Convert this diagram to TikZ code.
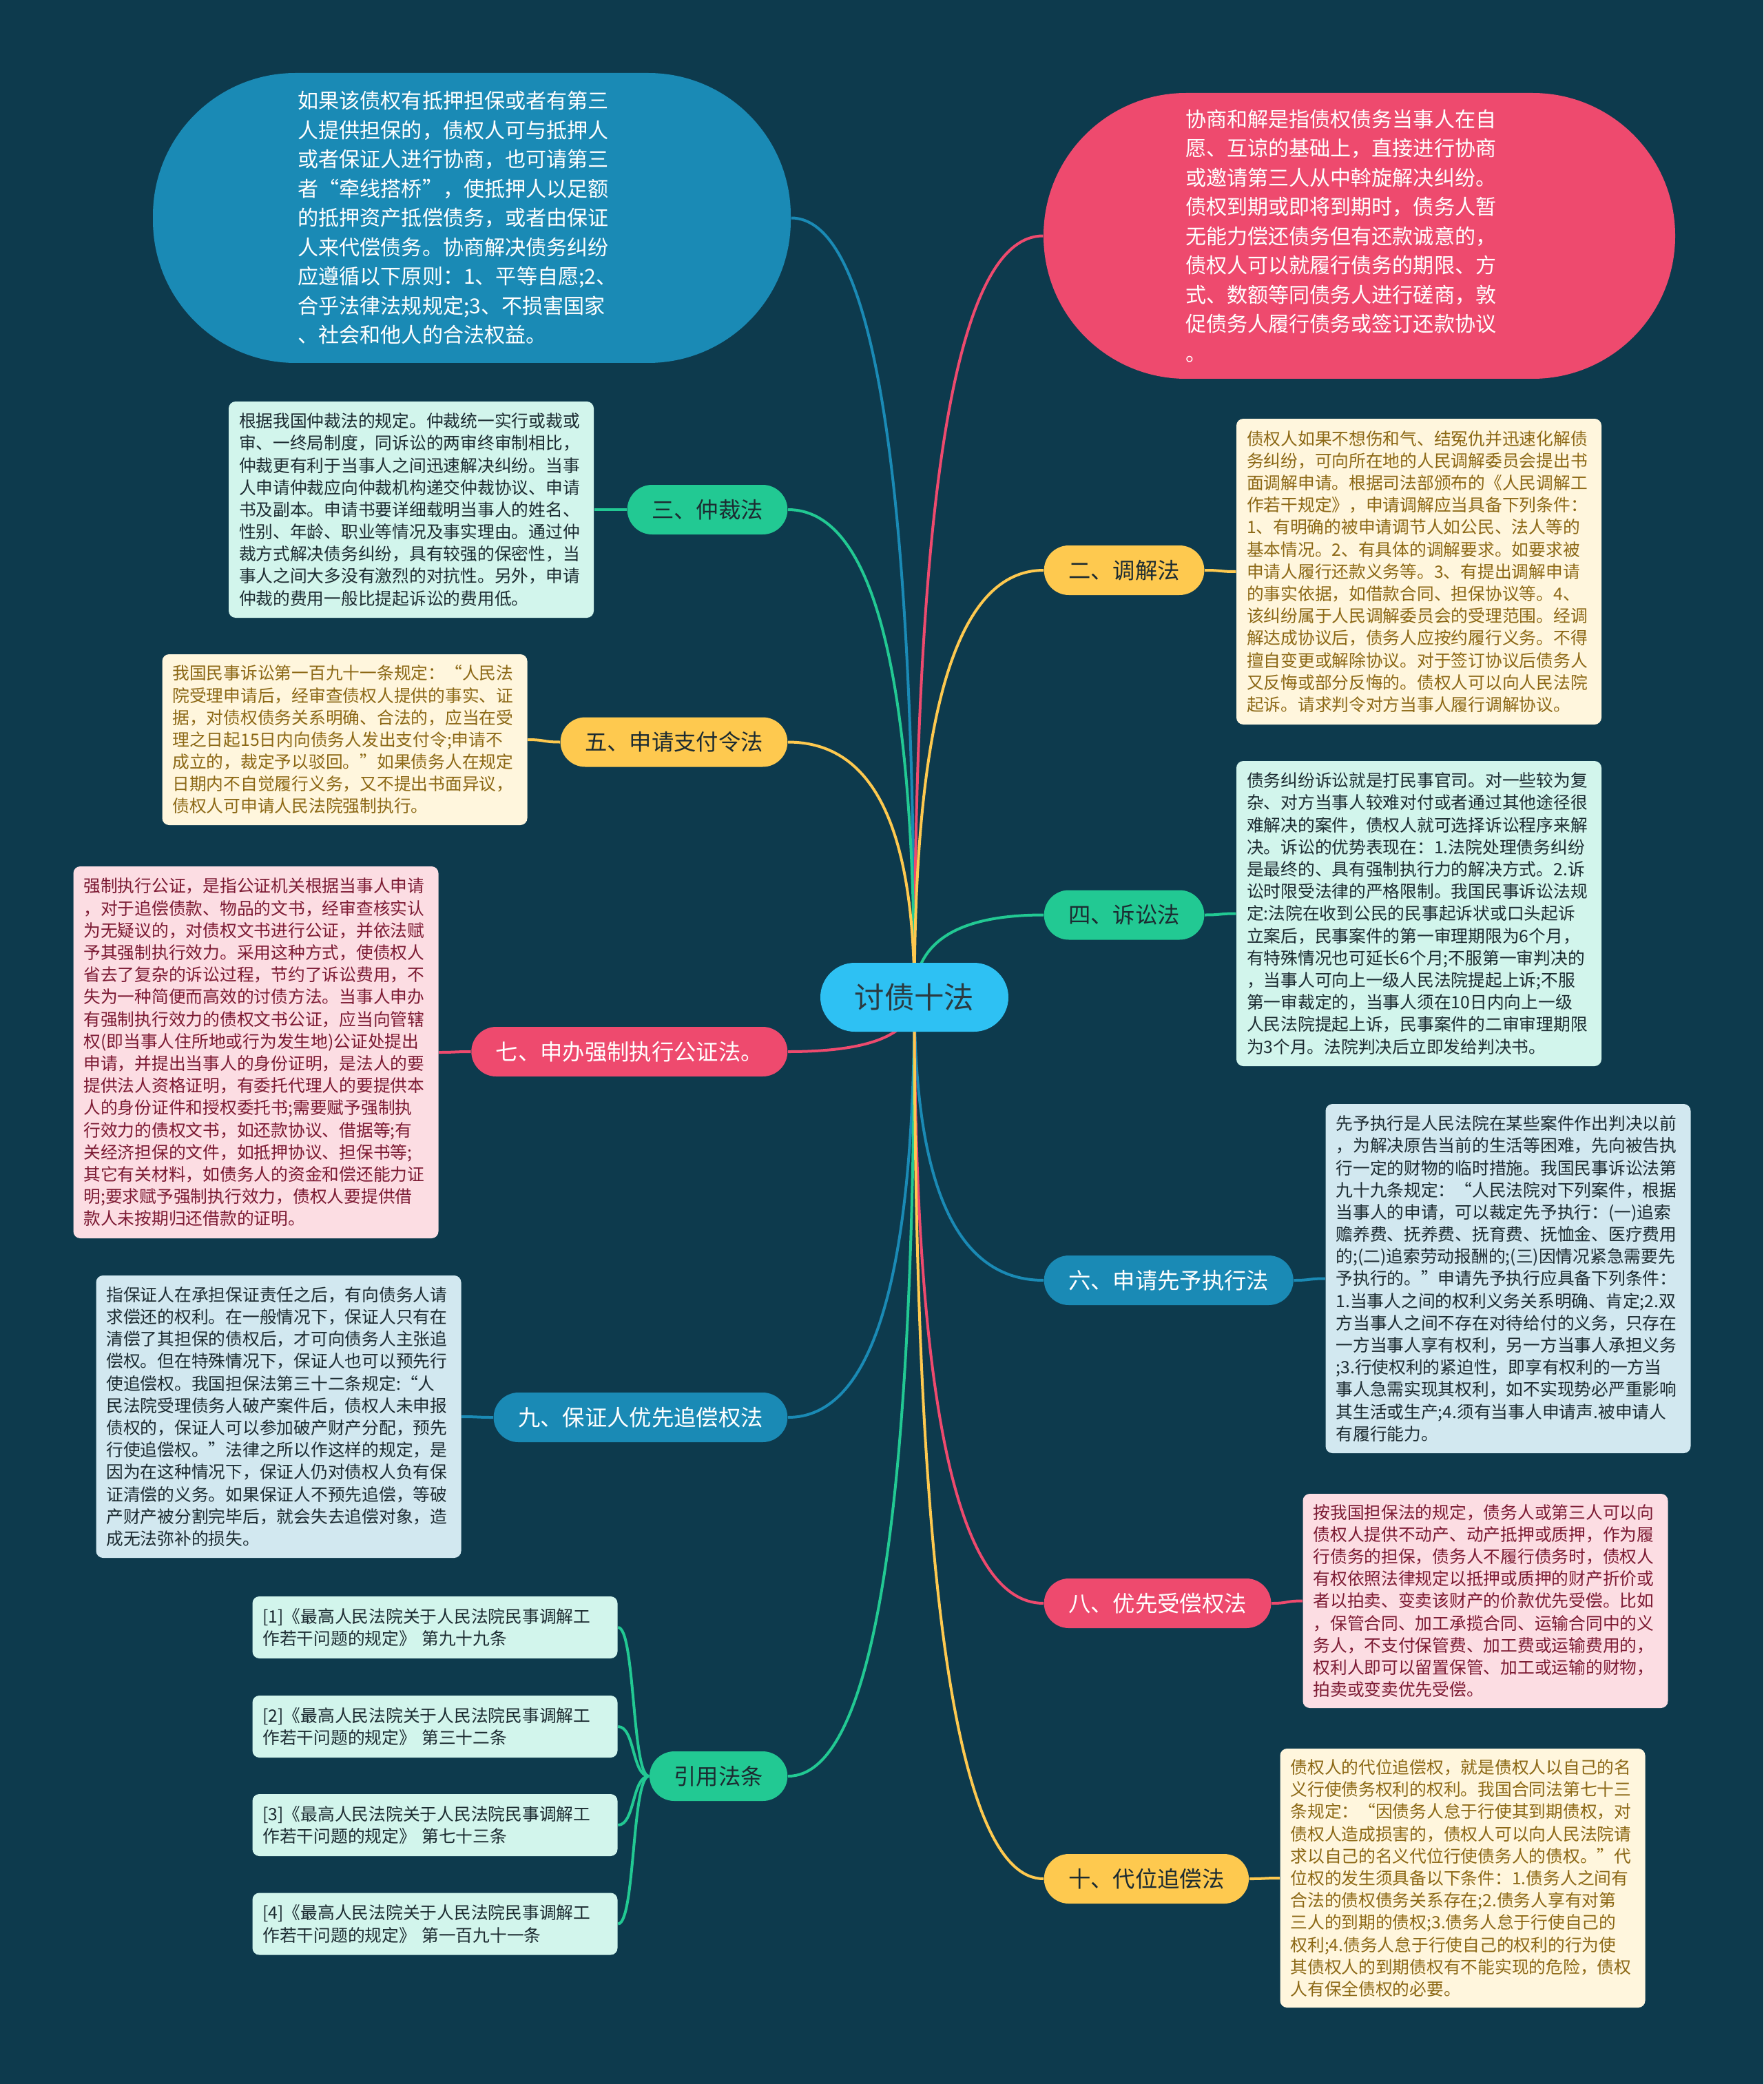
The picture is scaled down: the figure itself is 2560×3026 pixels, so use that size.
\documentclass[tikz,border=0pt]{standalone}
\usepackage{fontspec}
\setmainfont{Noto Sans CJK SC}
\usetikzlibrary{calc}
\pgfdeclarelayer{back}
\pgfdeclarelayer{links}
\pgfsetlayers{back,links,main}
\definecolor{bg}{HTML}{0D3A4D}
\definecolor{topc}{HTML}{2EC1F3}
\definecolor{tealc}{HTML}{22C993}
\definecolor{yelc}{HTML}{FEC94F}
\definecolor{redc}{HTML}{EE4A6E}
\definecolor{bluec}{HTML}{1A8AB5}
\definecolor{tealbg}{HTML}{D2F5EC}
\definecolor{yelbg}{HTML}{FFF6DD}
\definecolor{redbg}{HTML}{FCDDE3}
\definecolor{bluebg}{HTML}{D2E8F0}
\definecolor{darktx}{HTML}{1C2B31}
\definecolor{toptx}{HTML}{2B3A40}
\definecolor{yeltx}{HTML}{8C6815}
\definecolor{redtx}{HTML}{7C1A33}

\begin{document}
\begin{tikzpicture}[x=0.1mm, y=-0.1mm,
  link/.style={line width=0.4mm},
  twig/.style={to path={.. controls ($(\tikztostart)!0.67!(\tikztostart |- \tikztotarget)$) and ($(\tikztotarget)!0.67!(\tikztostart |- \tikztotarget)$) .. (\tikztotarget)}},
  pill/.style={rounded corners=3.6mm, minimum height=7.2mm, inner xsep=3.55mm, inner ysep=0pt, font=\fontsize{9.2}{11}\selectfont},
  note/.style={rounded corners=1mm, text width=50mm, align=left, inner xsep=1.5mm, inner ysep=0pt, font=\fontsize{7.04}{9.16}\selectfont},
  bubble/.style={rounded corners=20.7mm, text width=50.5mm, align=left, text=white, font=\fontsize{8.56}{12.09}\selectfont}]
\begin{pgfonlayer}{back}
\fill[bg] (0,0) rectangle (2560,3026);
\end{pgfonlayer}
\useasboundingbox (0,0) rectangle (2560,3026);

\node[fill=topc, text=toptx, rounded corners=5mm, minimum width=27.3mm, minimum height=10mm, font=\fontsize{12.35}{14}\selectfont] (c) at (1327.5,1448) {讨债十法};

\node[bubble, fill=bluec, minimum width=92.6mm, minimum height=42.1mm] (bl) at (685,316.5) {如果该债权有抵押担保或者有第三\\人提供担保的，债权人可与抵押人\\或者保证人进行协商，也可请第三\\者“牵线搭桥”，使抵押人以足额\\的抵押资产抵偿债务，或者由保证\\人来代偿债务。协商解决债务纠纷\\应遵循以下原则：1、平等自愿;2、\\合乎法律法规规定;3、不损害国家\\、社会和他人的合法权益。};
\node[bubble, fill=redc, minimum width=91.7mm, minimum height=41.5mm] (rd) at (1973.5,342.5) {协商和解是指债权债务当事人在自\\愿、互谅的基础上，直接进行协商\\或邀请第三人从中斡旋解决纠纷。\\债权到期或即将到期时，债务人暂\\无能力偿还债务但有还款诚意的，\\债权人可以就履行债务的期限、方\\式、数额等同债务人进行磋商，敦\\促债务人履行债务或签订还款协议\\。};

\node[pill, fill=tealc, text=darktx, anchor=east] (san) at (1144,740) {三、仲裁法};
\node[pill, fill=yelc, text=darktx, anchor=east] (wu) at (1144,1077.5) {五、申请支付令法};
\node[pill, fill=redc, text=white, anchor=east] (qi) at (1144,1527) {七、申办强制执行公证法。};
\node[pill, fill=bluec, text=white, anchor=east] (jiu) at (1144,2058) {九、保证人优先追偿权法};
\node[pill, fill=tealc, text=darktx, anchor=east] (yin) at (1144,2579) {引用法条};
\node[pill, fill=yelc, text=darktx, anchor=west] (er) at (1515,828) {二、调解法};
\node[pill, fill=tealc, text=darktx, anchor=west] (si) at (1515,1328.5) {四、诉讼法};
\node[pill, fill=bluec, text=white, anchor=west] (liu) at (1515,1859) {六、申请先予执行法};
\node[pill, fill=redc, text=white, anchor=west] (ba) at (1515,2328) {八、优先受偿权法};
\node[pill, fill=yelc, text=darktx, anchor=west] (shi) at (1515,2728) {十、代位追偿法};

\node[note, fill=tealbg, text=darktx, minimum height=31.4mm] (dsan) at (597,740) {根据我国仲裁法的规定。仲裁统一实行或裁或\\审、一终局制度，同诉讼的两审终审制相比，\\仲裁更有利于当事人之间迅速解决纠纷。当事\\人申请仲裁应向仲裁机构递交仲裁协议、申请\\书及副本。申请书要详细载明当事人的姓名、\\性别、年龄、职业等情况及事实理由。通过仲\\裁方式解决债务纠纷，具有较强的保密性，当\\事人之间大多没有激烈的对抗性。另外，申请\\仲裁的费用一般比提起诉讼的费用低。};
\node[note, fill=yelbg, text=yeltx, minimum height=24.8mm] (dwu) at (500.5,1074) {我国民事诉讼第一百九十一条规定：“人民法\\院受理申请后，经审查债权人提供的事实、证\\据，对债权债务关系明确、合法的，应当在受\\理之日起15日内向债务人发出支付令;申请不\\成立的，裁定予以驳回。”如果债务人在规定\\日期内不自觉履行义务，又不提出书面异议，\\债权人可申请人民法院强制执行。};
\node[note, fill=redbg, text=redtx, minimum height=54mm] (dqi) at (371.5,1528) {强制执行公证，是指公证机关根据当事人申请\\，对于追偿债款、物品的文书，经审查核实认\\为无疑议的，对债权文书进行公证，并依法赋\\予其强制执行效力。采用这种方式，使债权人\\省去了复杂的诉讼过程，节约了诉讼费用，不\\失为一种简便而高效的讨债方法。当事人申办\\有强制执行效力的债权文书公证，应当向管辖\\权(即当事人住所地或行为发生地)公证处提出\\申请，并提出当事人的身份证明，是法人的要\\提供法人资格证明，有委托代理人的要提供本\\人的身份证件和授权委托书;需要赋予强制执\\行效力的债权文书，如还款协议、借据等;有\\关经济担保的文件，如抵押协议、担保书等;\\其它有关材料，如债务人的资金和偿还能力证\\明;要求赋予强制执行效力，债权人要提供借\\款人未按期归还借款的证明。};
\node[note, fill=bluebg, text=darktx, minimum height=41mm] (djiu) at (404.5,2057) {指保证人在承担保证责任之后，有向债务人请\\求偿还的权利。在一般情况下，保证人只有在\\清偿了其担保的债权后，才可向债务人主张追\\偿权。但在特殊情况下，保证人也可以预先行\\使追偿权。我国担保法第三十二条规定:“人\\民法院受理债务人破产案件后，债权人未申报\\债权的，保证人可以参加破产财产分配，预先\\行使追偿权。”法律之所以作这样的规定，是\\因为在这种情况下，保证人仍对债权人负有保\\证清偿的义务。如果保证人不预先追偿，等破\\产财产被分割完毕后，就会失去追偿对象，造\\成无法弥补的损失。};
\node[note, fill=tealbg, text=darktx, minimum height=9mm] (r1) at (631.5,2363) {[1]《最高人民法院关于人民法院民事调解工\\作若干问题的规定》 第九十九条};
\node[note, fill=tealbg, text=darktx, minimum height=9mm] (r2) at (631.5,2507) {[2]《最高人民法院关于人民法院民事调解工\\作若干问题的规定》 第三十二条};
\node[note, fill=tealbg, text=darktx, minimum height=9mm] (r3) at (631.5,2650) {[3]《最高人民法院关于人民法院民事调解工\\作若干问题的规定》 第七十三条};
\node[note, fill=tealbg, text=darktx, minimum height=9mm] (r4) at (631.5,2793.5) {[4]《最高人民法院关于人民法院民事调解工\\作若干问题的规定》 第一百九十一条};

\node[note, fill=yelbg, text=yeltx, minimum height=44.4mm] (der) at (2060,830) {债权人如果不想伤和气、结冤仇并迅速化解债\\务纠纷，可向所在地的人民调解委员会提出书\\面调解申请。根据司法部颁布的《人民调解工\\作若干规定》，申请调解应当具备下列条件：\\1、有明确的被申请调节人如公民、法人等的\\基本情况。2、有具体的调解要求。如要求被\\申请人履行还款义务等。3、有提出调解申请\\的事实依据，如借款合同、担保协议等。4、\\该纠纷属于人民调解委员会的受理范围。经调\\解达成协议后，债务人应按约履行义务。不得\\擅自变更或解除协议。对于签订协议后债务人\\又反悔或部分反悔的。债权人可以向人民法院\\起诉。请求判令对方当事人履行调解协议。};
\node[note, fill=tealbg, text=darktx, minimum height=44.3mm] (dsi) at (2060,1326.5) {债务纠纷诉讼就是打民事官司。对一些较为复\\杂、对方当事人较难对付或者通过其他途径很\\难解决的案件，债权人就可选择诉讼程序来解\\决。诉讼的优势表现在：1.法院处理债务纠纷\\是最终的、具有强制执行力的解决方式。2.诉\\讼时限受法律的严格限制。我国民事诉讼法规\\定:法院在收到公民的民事起诉状或口头起诉\\立案后，民事案件的第一审理期限为6个月，\\有特殊情况也可延长6个月;不服第一审判决的\\，当事人可向上一级人民法院提起上诉;不服\\第一审裁定的，当事人须在10日内向上一级\\人民法院提起上诉，民事案件的二审审理期限\\为3个月。法院判决后立即发给判决书。};
\node[note, fill=bluebg, text=darktx, minimum height=50.7mm] (dliu) at (2189.5,1856.5) {先予执行是人民法院在某些案件作出判决以前\\，为解决原告当前的生活等困难，先向被告执\\行一定的财物的临时措施。我国民事诉讼法第\\九十九条规定：“人民法院对下列案件，根据\\当事人的申请，可以裁定先予执行：(一)追索\\赡养费、抚养费、抚育费、抚恤金、医疗费用\\的;(二)追索劳动报酬的;(三)因情况紧急需要先\\予执行的。”申请先予执行应具备下列条件：\\1.当事人之间的权利义务关系明确、肯定;2.双\\方当事人之间不存在对待给付的义务，只存在\\一方当事人享有权利，另一方当事人承担义务\\;3.行使权利的紧迫性，即享有权利的一方当\\事人急需实现其权利，如不实现势必严重影响\\其生活或生产;4.须有当事人申请声.被申请人\\有履行能力。};
\node[note, fill=redbg, text=redtx, minimum height=31.1mm] (dba) at (2156.5,2324.5) {按我国担保法的规定，债务人或第三人可以向\\债权人提供不动产、动产抵押或质押，作为履\\行债务的担保，债务人不履行债务时，债权人\\有权依照法律规定以抵押或质押的财产折价或\\者以拍卖、变卖该财产的价款优先受偿。比如\\，保管合同、加工承揽合同、运输合同中的义\\务人，不支付保管费、加工费或运输费用的，\\权利人即可以留置保管、加工或运输的财物，\\拍卖或变卖优先受偿。};
\node[note, fill=yelbg, text=yeltx, minimum height=37.6mm] (dshi) at (2123.5,2727) {债权人的代位追偿权，就是债权人以自己的名\\义行使债务权利的权利。我国合同法第七十三\\条规定：“因债务人怠于行使其到期债权，对\\债权人造成损害的，债权人可以向人民法院请\\求以自己的名义代位行使债务人的债权。”代\\位权的发生须具备以下条件：1.债务人之间有\\合法的债权债务关系存在;2.债务人享有对第\\三人的到期的债权;3.债务人怠于行使自己的\\权利;4.债务人怠于行使自己的权利的行为使\\其债权人的到期债权有不能实现的危险，债权\\人有保全债权的必要。};

\begin{pgfonlayer}{links}
% centre to branches
\draw[link, bluec] (c.center) to[twig] (bl.east);
\draw[link, redc] (c.center) to[twig] (rd.west);
\draw[link, tealc] (c.center) to[twig] (san.east);
\draw[link, yelc] (c.center) to[twig] (wu.east);
\draw[link, yelc] (c.center) to[twig] (er.west);
\draw[link, tealc] (c.center) to[twig] (si.west);
\draw[link, redc] (c.center) to[twig] (qi.east);
\draw[link, bluec] (c.center) to[twig] (jiu.east);
\draw[link, tealc] (c.center) to[twig] (yin.east);
\draw[link, bluec] (c.center) to[twig] (liu.west);
\draw[link, redc] (c.center) to[twig] (ba.west);
\draw[link, yelc] (c.center) to[twig] (shi.west);

% branches to notes
\draw[link, tealc] (san.west) .. controls +(-25,0) and +(25,0) .. (dsan.east);
\draw[link, yelc] (wu.west) .. controls +(-25,0) and +(25,0) .. (dwu.east);
\draw[link, redc] (qi.west) .. controls +(-25,0) and +(25,0) .. (dqi.east);
\draw[link, bluec] (jiu.west) .. controls +(-25,0) and +(25,0) .. (djiu.east);
\foreach \r in {r1,r2,r3,r4}
  \draw[link, tealc] (yin.west) .. controls +(-25,0) and +(25,0) .. (\r.east);
\draw[link, yelc] (er.east) .. controls +(25,0) and +(-25,0) .. (der.west);
\draw[link, tealc] (si.east) .. controls +(25,0) and +(-25,0) .. (dsi.west);
\draw[link, bluec] (liu.east) .. controls +(25,0) and +(-25,0) .. (dliu.west);
\draw[link, redc] (ba.east) .. controls +(25,0) and +(-25,0) .. (dba.west);
\draw[link, yelc] (shi.east) .. controls +(25,0) and +(-25,0) .. (dshi.west);
\end{pgfonlayer}
\end{tikzpicture}
\end{document}
